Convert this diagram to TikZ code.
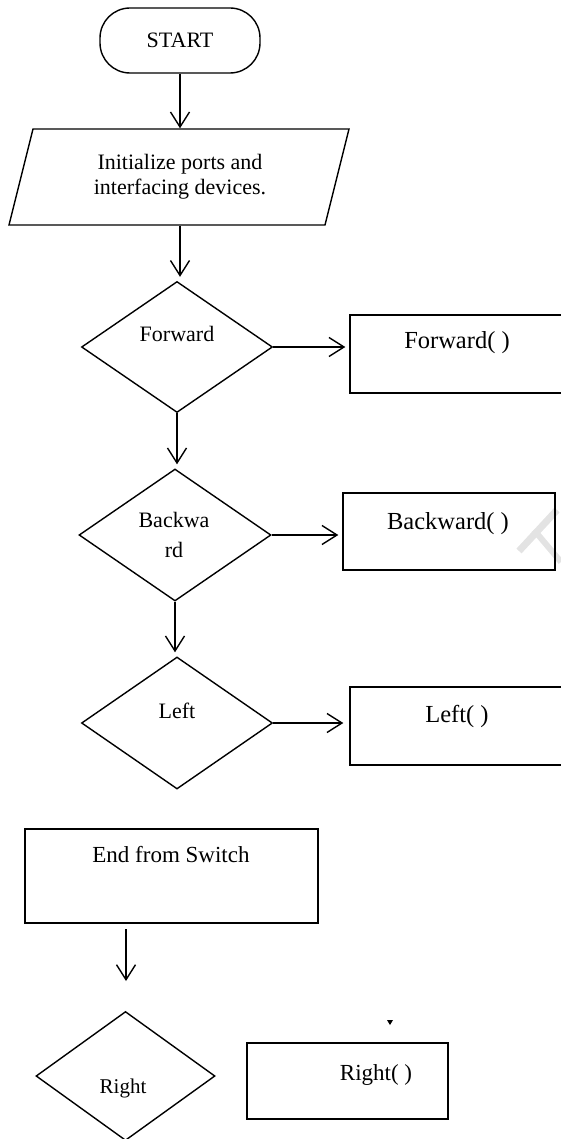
\documentclass[tikz,border=0pt]{standalone}
\usepackage{fontspec}
\setmainfont{Liberation Serif}
\usetikzlibrary{shapes.geometric,arrows.meta}
\begin{document}
\begin{tikzpicture}[x=1pt,y=-1pt,
  line width=1.4pt,
  arr/.style={-{Straight Barb[length=15pt,width=19pt,line width=1.4pt]}},
  dia/.style={draw,diamond,inner sep=0pt,minimum width=191pt,minimum height=131pt},
  boxn/.style={draw,rectangle,inner sep=0pt},
  txt/.style={inner sep=0pt,font=\fontsize{22}{25}\selectfont},
  btxt/.style={inner sep=0pt,font=\fontsize{24.5}{28}\selectfont},
]
\useasboundingbox (0,0) rectangle (561,1139);
\clip (0,0) rectangle (561,1139);

% watermark fragment
\draw[gray!22,line width=7pt] (519,551) -- (557,510);
\draw[gray!22,line width=6pt] (534,530) -- (561,562);

% START
\node[draw,rectangle,rounded corners=30pt,minimum width=160pt,minimum height=65pt,inner sep=0pt,font=\fontsize{22}{25}\selectfont] (start) at (180,40.5) {START};

% Init parallelogram
\draw (9,225) -- (33,129) -- (349,129) -- (325,225) -- cycle;
\node[rectangle,minimum width=300pt,minimum height=96pt,inner sep=0pt,align=center,font=\fontsize{22}{25}\selectfont] (init) at (180,177) {Initialize ports and\\interfacing devices.};

% Forward
\node[dia] (d1) at (177,347) {};
\node[txt] (t1) at (177,334) {Forward};
\node[boxn,minimum width=215pt,minimum height=78pt] (b1) at (457.5,354) {};
\node[btxt] (bt1) at (457,343) {Forward( )};

% Backward
\node[dia,minimum width=192pt,minimum height=132pt] (d2) at (175,535) {};
\node[txt,align=center,font=\fontsize{22}{30}\selectfont] (t2) at (174,535) {Backwa\\rd};
\node[boxn,minimum width=212pt,minimum height=77pt] (b2) at (449,531.5) {};
\node[btxt] (bt2) at (448,524) {Backward( )};

% Left
\node[dia,minimum height=132pt] (d3) at (177,723) {};
\node[txt] (t3) at (177,711) {Left};
\node[boxn,minimum width=215pt,minimum height=78pt] (b3) at (457.5,726) {};
\node[btxt] (bt3) at (457,716) {Left( )};

% End from Switch
\node[boxn,minimum width=293pt,minimum height=94pt] (endb) at (171.5,876) {};
\node[txt,font=\fontsize{23}{26}\selectfont] (et) at (171,855) {End from Switch};
\coordinate (ea) at (126,929);
\coordinate (eb) at (126,981);

% Right
\node[dia,minimum width=179pt,minimum height=129pt] (d4) at (125.5,1076) {};
\node[txt,font=\fontsize{21}{24}\selectfont] (t4) at (123,1088) {Right};
\node[boxn,minimum width=201pt,minimum height=76pt] (b4) at (347.5,1081) {};
\node[txt,font=\fontsize{23}{26}\selectfont] (bt4) at (376,1075) {Right( )};
\coordinate (tip) at (390,1025);
\fill (tip) -- ++(-3,-5) -- ++(6,0) -- cycle;

% connectors
\draw[arr] (start.south) -- (init.north);
\draw[arr,shorten >=4pt] (init.south) -- (init.south |- d1.north);
\draw[arr,shorten >=4pt] (d1.east) -- (d1.east -| b1.west);
\draw[arr,shorten >=4pt] (d1.south) -- (d1.south |- d2.north);
\draw[arr,shorten >=4pt] (d2.east) -- (d2.east -| b2.west);
\draw[arr,shorten >=4pt] (d2.south) -- (d2.south |- d3.north);
\draw[arr,shorten >=6pt] (d3.east) -- (d3.east -| b3.west);
\draw[arr] (ea) -- (eb);
\end{tikzpicture}
\end{document}
